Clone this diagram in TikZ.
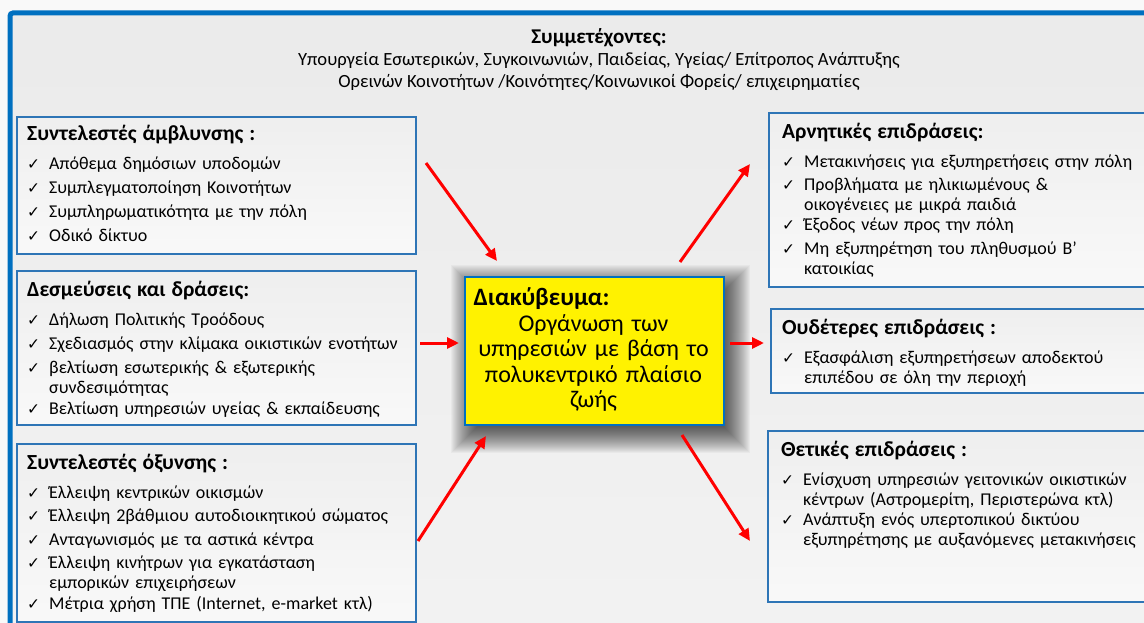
\documentclass[tikz,border=0pt]{standalone}
\usepackage{fontspec}
\setmainfont{Carlito}
\newfontfamily\symfont{DejaVu Sans}
\usetikzlibrary{arrows.meta}
\definecolor{frameblue}{HTML}{0070C0}
\definecolor{boxblue}{HTML}{2E75B6}
\definecolor{arrred}{HTML}{FF0000}
\newcommand{\chk}{{\symfont\fontsize{15.5}{15.5}\selectfont ✓}}
\newcommand{\itm}[1]{\par\noindent\makebox[22pt][l]{\chk}\parbox[t]{350pt}{\raggedright #1}}
\newcommand{\hd}[1]{{\fontsize{21.5}{24}\selectfont\bfseries #1}\par\vspace{5pt}}
\begin{document}
\begin{tikzpicture}[x=1pt,y=-1pt,
  panel/.style={draw=boxblue,line width=1.8pt,top color=gray!13,bottom color=gray!5,inner sep=0pt,anchor=north west},
  paneltext/.style={anchor=north west,inner sep=0pt,text width=#1,align=left,
    font=\fontsize{18}{19.5}\selectfont},
  paneltext/.default=380pt,
  rtext/.style={paneltext=370pt,font=\fontsize{18}{20}\selectfont},
  arr/.style={draw=arrred,line width=3pt,-{Triangle[length=12pt,width=11pt]}}
]
\useasboundingbox (0,0) rectangle (1144,623);
\clip (0,0) rectangle (1144,623);
\fill[gray!5] (0,0) rectangle (1144,623);
% outer frame
\path[draw=frameblue,line width=5pt,rounded corners=3pt,
  top color=gray!16,middle color=white,bottom color=gray!10]
  (10,13) rectangle (1160,640);
% header
\node[align=center,inner sep=0pt,font=\fontsize{18.6}{22}\selectfont] (hdr) at (599,60)
 {{\fontsize{21}{22}\selectfont\bfseries Συμμετέχοντες:}\\
  Υπουργεία Εσωτερικών, Συγκοινωνιών, Παιδείας, Υγείας/ Επίτροπος Ανάπτυξης\\
  Ορεινών Κοινοτήτων /Κοινότητες/Κοινωνικοί Φορείς/ επιχειρηματίες};
% left panels
\node[panel,minimum width=399pt,minimum height=137pt] (b1) at (16,116) {};
\node[paneltext] (t1) at ([shift={(11pt,-9pt)}]b1.north west)
 {\setlength{\parskip}{4.5pt}\hd{Συντελεστές άμβλυνσης :}%
  \itm{Απόθεμα δημόσιων υποδομών}
  \itm{Συμπλεγματοποίηση Κοινοτήτων}
  \itm{Συμπληρωματικότητα με την πόλη}
  \itm{Οδικό δίκτυο}};
\node[panel,minimum width=399pt,minimum height=154pt] (b2) at (16,270) {};
\node[paneltext] (t2) at ([shift={(11pt,-11pt)}]b2.north west)
 {\setlength{\parskip}{4.5pt}\hd{Δεσμεύσεις και δράσεις:}%
  \itm{Δήλωση Πολιτικής Τροόδους}
  \itm{Σχεδιασμός στην κλίμακα οικιστικών ενοτήτων}
  \itm{βελτίωση εσωτερικής \& εξωτερικής\\ συνδεσιμότητας}
  \itm{Βελτίωση υπηρεσιών υγείας \& εκπαίδευσης}};
\node[panel,minimum width=399pt,minimum height=178pt] (b3) at (16,443) {};
\node[paneltext] (t3) at ([shift={(11pt,-11pt)}]b3.north west)
 {\setlength{\parskip}{4pt}\hd{Συντελεστές όξυνσης :}%
  \itm{Έλλειψη κεντρικών οικισμών}
  \itm{Έλλειψη 2βάθμιου αυτοδιοικητικού σώματος}
  \itm{Ανταγωνισμός με τα αστικά κέντρα}
  \itm{Έλλειψη κινήτρων για εγκατάσταση\\ εμπορικών επιχειρήσεων}
  \itm{Μέτρια χρήση ΤΠΕ (Internet, e-market κτλ)}};
% right panels
\node[panel,minimum width=390pt,minimum height=174pt] (r1) at (768,112) {};
\node[rtext] (u1) at ([shift={(14pt,-11pt)}]r1.north west)
 {\setlength{\parskip}{3.5pt}\hd{Αρνητικές επιδράσεις:}%
  \itm{Μετακινήσεις για εξυπηρετήσεις στην πόλη}
  \itm{Προβλήματα με ηλικιωμένους \&\\ οικογένειες με μικρά παιδιά}
  \itm{Έξοδος νέων προς την πόλη}
  \itm{Μη εξυπηρέτηση του πληθυσμού Β’\\ κατοικίας}};
\node[panel,minimum width=390pt,minimum height=84pt] (r2) at (770,308) {};
\node[rtext] (u2) at ([shift={(12pt,-11pt)}]r2.north west)
 {\setlength{\parskip}{3.5pt}\hd{Ουδέτερες επιδράσεις :}%
  \itm{Εξασφάλιση εξυπηρετήσεων αποδεκτού\\ επιπέδου σε όλη την περιοχή}};
\node[panel,minimum width=390pt,minimum height=171pt] (r3) at (767,430) {};
\node[rtext] (u3) at ([shift={(14pt,-11pt)}]r3.north west)
 {\setlength{\parskip}{3.5pt}\hd{Θετικές επιδράσεις :}%
  \itm{Ενίσχυση υπηρεσιών γειτονικών οικιστικών\\ κέντρων (Αστρομερίτη, Περιστερώνα κτλ)}
  \itm{Ανάπτυξη ενός υπερτοπικού δικτύου\\ εξυπηρέτησης με αυξανόμενες μετακινήσεις}};
% centre: soft shadow, then box
\foreach \e in {-10,...,20}
  \fill[black,opacity=0.03] ({471-\e},{285-\e}) rectangle ({730+\e},{433+\e});
\node[draw=frameblue,line width=1.8pt,fill=yellow,anchor=north west,inner sep=0pt,
  minimum width=259pt,minimum height=148pt] (c) at (464,276) {};
\node[inner sep=0pt,text width=240pt,font=\fontsize{24}{25.5}\selectfont] (ct) at (593.5,350)
 {\raggedright{\fontsize{25}{25.5}\selectfont\textbf{Διακύβευμα:}}\par\centering
  Οργάνωση των\\ υπηρεσιών με βάση το\\ πολυκεντρικό πλαίσιο\\ ζωής\par};
% arrow end points
\coordinate (a1s) at (426,163); \coordinate (a1e) at (497,261);
\coordinate (a2s) at (420,343); \coordinate (a2e) at (459,343);
\coordinate (a3s) at (418,541); \coordinate (a3e) at (486,436);
\coordinate (a4s) at (680,262); \coordinate (a4e) at (750,164);
\coordinate (a5s) at (730,343); \coordinate (a5e) at (764,343);
\coordinate (a6s) at (682,435); \coordinate (a6e) at (750,541);
\draw[arr] (a1s) -- (a1e);
\draw[arr] (a2s) -- (a2e);
\draw[arr] (a3s) -- (a3e);
\draw[arr] (a4s) -- (a4e);
\draw[arr] (a5s) -- (a5e);
\draw[arr] (a6s) -- (a6e);
\end{tikzpicture}
\end{document}
